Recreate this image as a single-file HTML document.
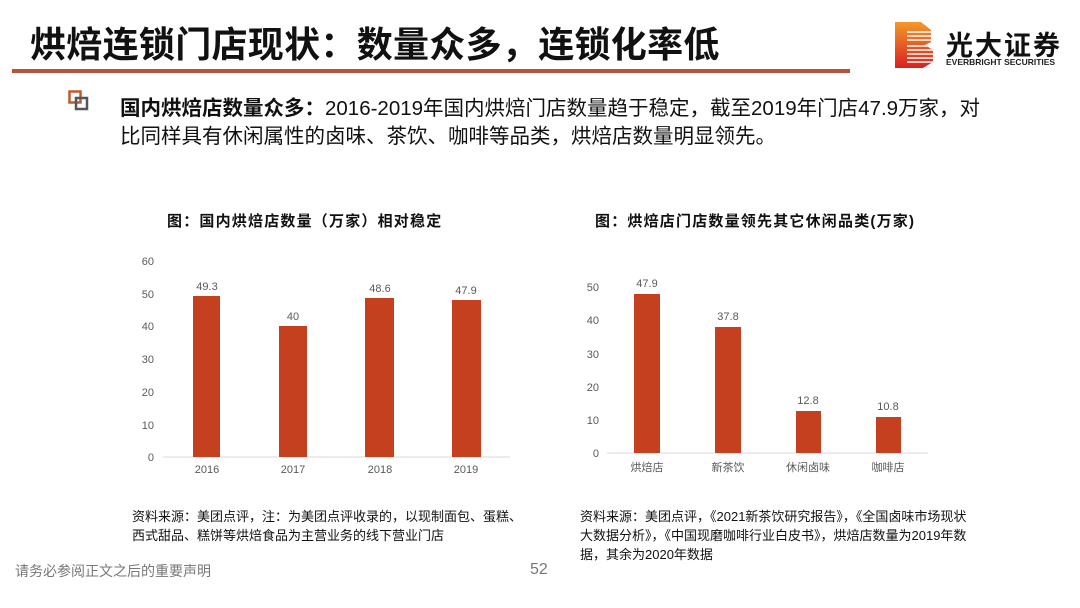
<!DOCTYPE html>
<html><head><meta charset="utf-8"><style>
body{margin:0;width:1080px;height:608px;background:#fff;position:relative;overflow:hidden;font-family:"Liberation Sans","Noto Sans CJK SC",sans-serif;}
.a{position:absolute;white-space:nowrap;}
</style></head><body>
<div class="a" style="left:30px;top:20px;font-size:36px;font-weight:bold;letter-spacing:0.3px;color:#111;line-height:50px;">烘焙连锁门店现状：数量众多，连锁化率低</div>
<div class="a" style="left:12px;top:69px;width:838px;height:4px;background:#b5533c;"></div>
<svg class="a" style="left:893px;top:20px" width="46" height="50">
<defs><linearGradient id="g" x1="0" y1="0" x2="0" y2="1"><stop offset="0" stop-color="#f39a2a"/><stop offset="1" stop-color="#d8201e"/></linearGradient></defs>
<path d="M2 2H28L38 10V22L32 25L40 30V42L30 48H2Z" fill="url(#g)"/>
<g stroke="#fff" stroke-width="1.5"><line x1="14" y1="26" x2="40" y2="26"/><line x1="14" y1="30" x2="40" y2="30"/><line x1="14" y1="34" x2="40" y2="34"/><line x1="14" y1="38" x2="40" y2="38"/><line x1="14" y1="42" x2="40" y2="42"/><line x1="14" y1="12" x2="38" y2="12"/><line x1="14" y1="16" x2="38" y2="16"/><line x1="14" y1="20" x2="38" y2="20"/></g>
</svg>
<div class="a" style="left:946px;top:24px;font-size:27px;font-weight:bold;color:#111;letter-spacing:2px;">光大证券</div>
<div class="a" style="left:946px;top:57px;font-size:8.5px;font-weight:bold;color:#222;">EVERBRIGHT SECURITIES</div>
<svg class="a" style="left:68px;top:90px" width="26" height="24"><rect x="1.5" y="1.5" width="11" height="11" fill="none" stroke="#c0582f" stroke-width="2.5"/><rect x="8" y="8" width="11" height="11" fill="none" stroke="#555" stroke-width="2.5"/></svg>
<div class="a" style="left:120px;top:95px;font-size:20.5px;color:#111;line-height:28px;"><b>国内烘焙店数量众多：</b>2016-2019年国内烘焙门店数量趋于稳定，截至2019年门店47.9万家，对<br>比同样具有休闲属性的卤味、茶饮、咖啡等品类，烘焙店数量明显领先。</div>
<div class="a" style="left:167px;top:210px;font-size:15px;font-weight:bold;letter-spacing:1.2px;color:#111;">图：国内烘焙店数量（万家）相对稳定</div>
<div class="a" style="left:595px;top:210px;font-size:15px;font-weight:bold;letter-spacing:1.2px;color:#111;">图：烘焙店门店数量领先其它休闲品类(万家)</div>
<svg class="a" style="left:0;top:0" width="1080" height="608" font-family="Liberation Sans,sans-serif" font-size="11" fill="#595959">
<g text-anchor="end"><text x="154" y="265">60</text><text x="154" y="298">50</text><text x="154" y="330">40</text><text x="154" y="363">30</text><text x="154" y="396">20</text><text x="154" y="429">10</text><text x="154" y="461">0</text></g>
<line x1="163" y1="457" x2="510" y2="457" stroke="#d9d9d9"/>
<g fill="#c4401f"><rect x="193" y="296" width="27" height="161"/><rect x="279" y="326" width="28" height="131"/><rect x="365" y="298" width="29" height="159"/><rect x="452" y="300" width="29" height="157"/></g>
<g text-anchor="middle"><text x="207" y="290">49.3</text><text x="293" y="320">40</text><text x="380" y="292">48.6</text><text x="466" y="294">47.9</text>
<text x="207" y="473">2016</text><text x="293" y="473">2017</text><text x="380" y="473">2018</text><text x="466" y="473">2019</text></g>
<g text-anchor="end"><text x="599" y="291">50</text><text x="599" y="324">40</text><text x="599" y="358">30</text><text x="599" y="391">20</text><text x="599" y="424">10</text><text x="599" y="457">0</text></g>
<line x1="607" y1="453" x2="928" y2="453" stroke="#d9d9d9"/>
<g fill="#c4401f"><rect x="634" y="294" width="26" height="159"/><rect x="715" y="327" width="26" height="126"/><rect x="796" y="411" width="25" height="42"/><rect x="876" y="417" width="25" height="36"/></g>
<g text-anchor="middle"><text x="647" y="287">47.9</text><text x="728" y="320">37.8</text><text x="808" y="404">12.8</text><text x="888" y="410">10.8</text></g>
<g text-anchor="middle" font-family="Liberation Sans,Noto Sans CJK SC,sans-serif"><text x="647" y="471">烘焙店</text><text x="728" y="471">新茶饮</text><text x="808" y="471">休闲卤味</text><text x="888" y="471">咖啡店</text></g>
</svg>
<div class="a" style="left:132px;top:507px;font-size:13px;color:#111;line-height:19px;">资料来源：美团点评，注：为美团点评收录的，以现制面包、蛋糕、<br>西式甜品、糕饼等烘焙食品为主营业务的线下营业门店</div>
<div class="a" style="left:580px;top:507px;font-size:13px;color:#111;line-height:19px;">资料来源：美团点评，《2021新茶饮研究报告》，《全国卤味市场现状<br>大数据分析》，《中国现磨咖啡行业白皮书》，烘焙店数量为2019年数<br>据，其余为2020年数据</div>
<div class="a" style="left:15px;top:561px;font-size:14px;color:#777;">请务必参阅正文之后的重要声明</div>
<div class="a" style="left:530px;top:561px;font-size:16px;color:#777;">52</div>
</body></html>
